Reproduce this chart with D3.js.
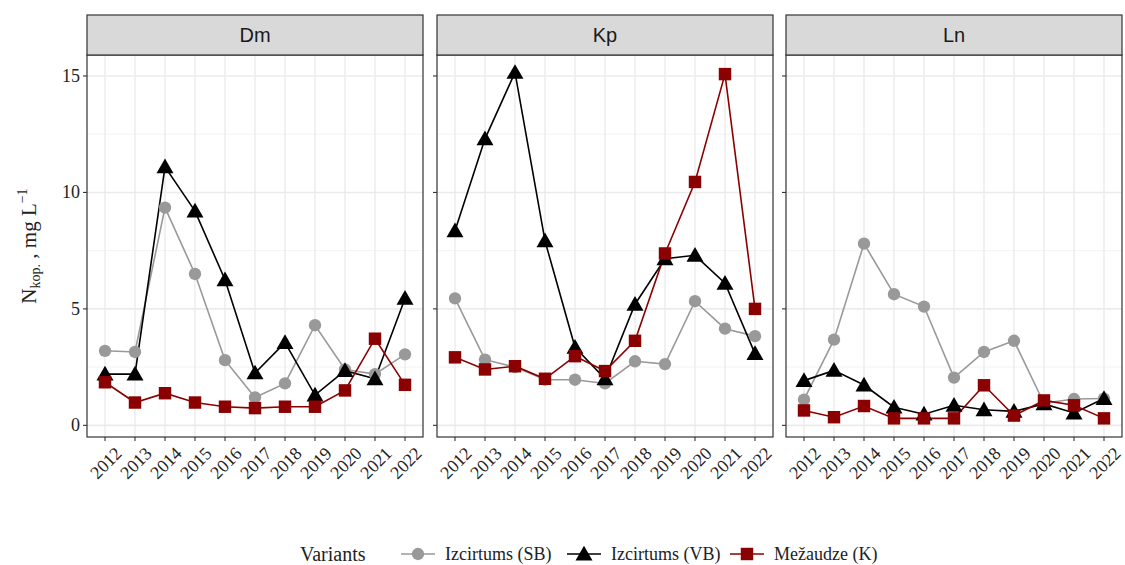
<!DOCTYPE html>
<html>
<head>
<meta charset="utf-8">
<script src="https://cdn.jsdelivr.net/npm/d3@7"></script>
<style>
  body { margin: 0; background: #fff; }
  svg { display: block; }
  .tick-lbl { font-family: "Liberation Serif", "Times New Roman", serif; font-size: 18px; fill: #222; }
  .strip-lbl { font-family: "Liberation Sans", Arial, sans-serif; font-size: 20px; fill: #1a1a1a; }
  .legend-lbl { font-family: "Liberation Serif", "Times New Roman", serif; font-size: 18px; fill: #222; }
</style>
</head>
<body>
<svg id="chart" width="1125" height="565"></svg>
<script>
// data
var years = [2012, 2013, 2014, 2015, 2016, 2017, 2018, 2019, 2020, 2021, 2022];
var sites = ["Dm", "Kp", "Ln"];
var variants = ["Izcirtums (SB)", "Izcirtums (VB)", "Mežaudze (K)"];
var yTicks = [0, 5, 10, 15];
var yMinor = [2.5, 7.5, 12.5];

var dmSB = [3.2, 3.15, 9.35, 6.5, 2.8, 1.2, 1.8, 4.3, 2.4, 2.2, 3.05];
var dmVB = [2.2, 2.2, 11.1, 9.2, 6.25, 2.25, 3.55, 1.3, 2.35, 2.0, 5.45];
var dmK  = [1.85, 0.98, 1.38, 0.98, 0.8, 0.74, 0.8, 0.8, 1.5, 3.72, 1.74];

var kpSB = [5.45, 2.82, 2.5, 1.96, 1.96, 1.8, 2.75, 2.63, 5.33, 4.15, 3.83];
var kpVB = [8.35, 12.3, 15.15, 7.92, 3.35, 2.0, 5.2, 7.15, 7.3, 6.1, 3.08];
var kpK  = [2.92, 2.4, 2.54, 2.0, 2.97, 2.33, 3.63, 7.38, 10.45, 15.08, 5.0];

var lnSB = [1.1, 3.68, 7.8, 5.63, 5.1, 2.05, 3.15, 3.63, 0.95, 1.13, 1.15];
var lnVB = [1.92, 2.36, 1.73, 0.78, 0.48, 0.86, 0.67, 0.6, 0.92, 0.53, 1.15];
var lnK  = [0.64, 0.35, 0.83, 0.3, 0.3, 0.3, 1.72, 0.42, 1.07, 0.86, 0.3];

var siteData = {
  Dm: [dmSB, dmVB, dmK],
  Kp: [kpSB, kpVB, kpK],
  Ln: [lnSB, lnVB, lnK]
};

var colors = ["#999999", "#000000", "#8B0000"];
var shapes = [d3.symbolCircle, d3.symbolTriangle, d3.symbolSquare];
var shapeSizes = [120, 125, 155];

// layout
var panelLeft = [87, 437, 786];
var panelW = 336;
var stripTop = 15, panelTop = 55, panelBottom = 437;

var svg = d3.select("#chart");

var y = d3.scaleLinear()
  .domain([-0.5, 15.9])
  .range([panelBottom, panelTop]);

var symbolGen = d3.symbol();

sites.forEach(function(site, si) {

  var x0 = panelLeft[si];
  var x = d3.scalePoint()
    .domain(years)
    .range([x0, x0 + panelW])
    .padding(0.6);

  var panel = svg.append("g").attr("class", "panel panel-" + site);

  panel.append("rect")
    .attr("x", x0).attr("y", panelTop)
    .attr("width", panelW).attr("height", panelBottom - panelTop)
    .attr("fill", "#fff");

  // grid
  panel.selectAll("line.yminor")
    .data(yMinor)
    .enter().append("line")
    .attr("class", "yminor")
    .attr("x1", x0).attr("x2", x0 + panelW)
    .attr("y1", function(d){ return y(d); })
    .attr("y2", function(d){ return y(d); })
    .attr("stroke", "#F2F2F2")
    .attr("stroke-width", 0.9)
    ;

  panel.selectAll("line.ymajor")
    .data(yTicks)
    .enter().append("line")
    .attr("class", "ymajor")
    .attr("x1", x0).attr("x2", x0 + panelW)
    .attr("y1", function(d){ return y(d); })
    .attr("y2", function(d){ return y(d); })
    .attr("stroke", "#EBEBEB")
    .attr("stroke-width", 1.6)
    ;

  panel.selectAll("line.xmajor")
    .data(years)
    .enter().append("line")
    .attr("class", "xmajor")
    .attr("x1", function(d){ return x(d); })
    .attr("x2", function(d){ return x(d); })
    .attr("y1", panelTop).attr("y2", panelBottom)
    .attr("stroke", "#EBEBEB")
    .attr("stroke-width", 1.4)
    ;

  // lines first, then points (like ggplot layers)
  var series = siteData[site];
  var line = d3.line()
    .x(function(d, i){ return x(years[i]); })
    .y(function(d){ return y(d); });

  series.forEach(function(vals, vi) {
    panel.append("path")
      .datum(vals)
      .attr("d", line)
      .attr("fill", "none")
      .attr("stroke", colors[vi])
      .attr("stroke-width", 1.6)
      ;
  });

  series.forEach(function(vals, vi) {
    panel.selectAll("path.pt-" + vi)
      .data(vals)
      .enter().append("path")
      .attr("class", "pt-" + vi)
      .attr("d", symbolGen.type(shapes[vi]).size(shapeSizes[vi])())
      .attr("transform", function(d, i) {
        var dy = vi === 1 ? 1.5 : 0;
        return "translate(" + x(years[i]) + "," + (y(d) + dy) + ")";
      })
      .attr("fill", colors[vi])
      ;
  });

  // border
  panel.append("rect")
    .attr("x", x0).attr("y", panelTop)
    .attr("width", panelW).attr("height", panelBottom - panelTop)
    .attr("fill", "none")
    .attr("stroke", "#333")
    .attr("stroke-width", 1.2);

  // strip
  panel.append("rect")
    .attr("x", x0).attr("y", stripTop)
    .attr("width", panelW).attr("height", panelTop - stripTop)
    .attr("fill", "#D9D9D9")
    .attr("stroke", "#333")
    .attr("stroke-width", 1.2);

  panel.append("text")
    .attr("class", "strip-lbl")
    .attr("x", x0 + panelW / 2)
    .attr("y", (stripTop + panelTop) / 2)
    .attr("text-anchor", "middle")
    .attr("dominant-baseline", "central")
    .text(site);

  // x axis ticks + rotated labels
  var xt = panel.selectAll("g.xtick")
    .data(years)
    .enter().append("g")
    .attr("class", "xtick")
    .attr("transform", function(d){ return "translate(" + x(d) + ",0)"; });

  xt.append("line")
    .attr("y1", panelBottom).attr("y2", panelBottom + 4)
    .attr("stroke", "#333").attr("stroke-width", 1.1);

  xt.append("text")
    .attr("class", "tick-lbl")
    .attr("text-anchor", "middle")
    .attr("dominant-baseline", "central")
    .attr("transform", "translate(1," + (panelBottom + 26) + ") rotate(-45)")
    .text(function(d){ return d; });

  // y axis only on the first panel, ticks on every panel
  panel.selectAll("line.ytick")
    .data(yTicks)
    .enter().append("line")
    .attr("class", "ytick")
    .attr("x1", x0 - 4).attr("x2", x0)
    .attr("y1", function(d){ return y(d); })
    .attr("y2", function(d){ return y(d); })
    .attr("stroke", "#333").attr("stroke-width", 1.1);

  if (si === 0) {
    panel.selectAll("text.ylbl")
      .data(yTicks)
      .enter().append("text")
      .attr("class", "tick-lbl ylbl")
      .attr("x", x0 - 7)
      .attr("y", function(d){ return y(d); })
      .attr("text-anchor", "end")
      .attr("dominant-baseline", "central")
      .text(function(d){ return d; });
  }
});

// y axis title: N_kop., mg L^-1
var ytitle = svg.append("text")
  .attr("transform", "translate(36," + ((panelTop + panelBottom) / 2) + ") rotate(-90)")
  .attr("text-anchor", "middle")
  .style("font-family", "'Liberation Serif', 'Times New Roman', serif")
  .style("font-size", "21px")
  .attr("fill", "#222");
ytitle.append("tspan").text("N");
ytitle.append("tspan").attr("dy", 4).style("font-size", "14px").text("kop.");
ytitle.append("tspan").attr("dy", -4).text(" , mg L");
ytitle.append("tspan").attr("dy", -9).style("font-size", "14px").text("−1");

// legend
var legendY = 554;
var legend = svg.append("g").attr("class", "legend");

legend.append("text")
  .attr("class", "legend-lbl")
  .attr("x", 300)
  .attr("y", legendY)
  .attr("dominant-baseline", "central")
  .style("font-size", "20px")
  .text("Variants");

var keyX = [401, 567, 730];
var legendItem = legend.selectAll("g.legenditem")
  .data(variants)
  .enter().append("g")
  .attr("class", "legenditem")
  .attr("transform", function(d, i){ return "translate(" + keyX[i] + "," + legendY + ")"; });

legendItem.append("line")
  .attr("x1", 0).attr("x2", 34)
  .attr("stroke", function(d, i){ return colors[i]; })
  .attr("stroke-width", 1.6);

legendItem.append("path")
  .attr("d", function(d, i){ return symbolGen.type(shapes[i]).size(shapeSizes[i])(); })
  .attr("transform", function(d, i){ return "translate(17," + (i === 1 ? 1.5 : 0) + ")"; })
  .attr("fill", function(d, i){ return colors[i]; });

legendItem.append("text")
  .attr("class", "legend-lbl")
  .attr("x", 44)
  .attr("dominant-baseline", "central")
  .text(function(d){ return d; });
</script>
</body>
</html>
